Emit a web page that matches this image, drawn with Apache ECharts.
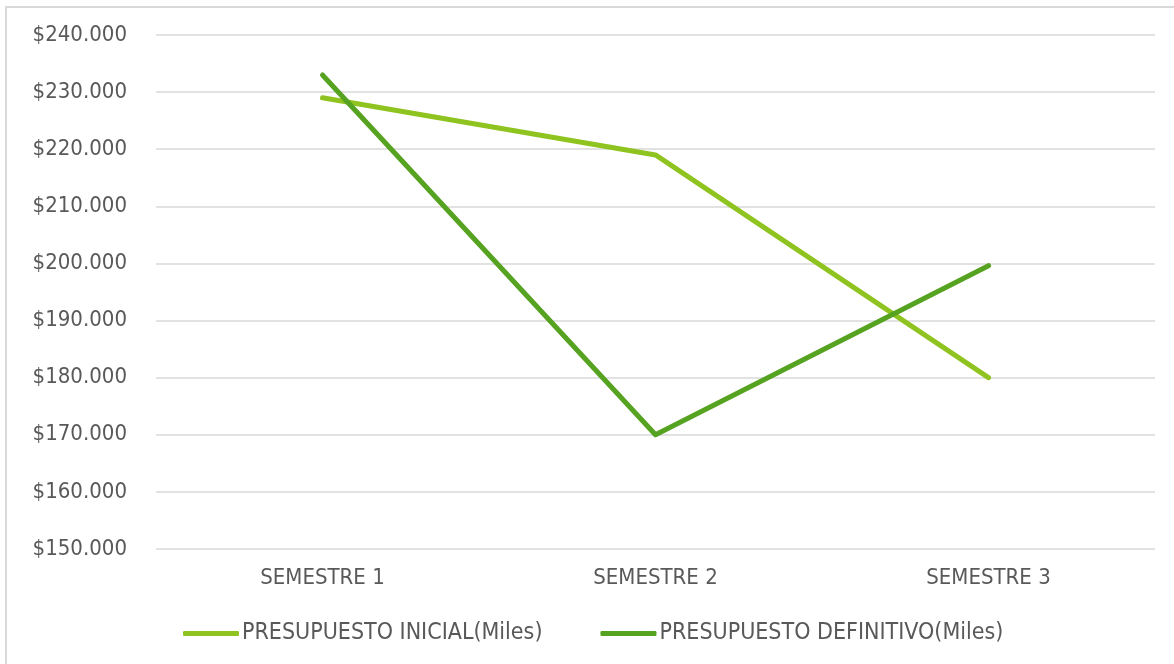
<!DOCTYPE html>
<html>
<head>
<meta charset="utf-8">
<script src="https://cdn.jsdelivr.net/npm/echarts@6/dist/echarts.min.js"></script>
<style>
  html, body { margin: 0; padding: 0; background: #fff; overflow: hidden; }
  #frame { position: absolute; left: 5px; top: 6px; width: 1200px; height: 700px; border-left: 2px solid #d9d9d9; border-top: 2px solid #d9d9d9; }
  #chart { position: absolute; left: 0; top: 0; width: 1174px; height: 664px; }
</style>
</head>
<body>
<div id="frame"></div>
<div id="chart"></div>
<script>
const categories = ['SEMESTRE 1', 'SEMESTRE 2', 'SEMESTRE 3']
const inicial = [229000, 219000, 180000]
const definitivo = [233000, 170000, 199600]
const seriesNames = ['PRESUPUESTO INICIAL(Miles)', 'PRESUPUESTO DEFINITIVO(Miles)']

const textFont = 'DejaVu Sans Condensed'
const textColor = '#595959'

function money(v) {
  // $240.000 style, dot as thousands separator
  return '$' + String(v).replace(/\B(?=(\d{3})+(?!\d))/g, '.')
}

const chart = echarts.init(document.getElementById('chart'))
chart.setOption({
  animation: false,
  grid: { left: 156, right: 19, top: 35, bottom: 115 },
  legend: {
    top: 617,
    left: 178,
    itemWidth: 56,
    itemHeight: 5,
    itemGap: 58,
    icon: 'roundRect',
    textStyle: { fontFamily: textFont, fontSize: 23, color: textColor, padding: [0, 0, 0, -2] },
    data: seriesNames,
  },
  xAxis: {
    type: 'category',
    data: categories,
    boundaryGap: true,
    axisLine: { show: false },
    axisTick: { show: false },
    axisLabel: { fontFamily: textFont, fontSize: 22, color: textColor, margin: 18 },
  },
  yAxis: {
    type: 'value',
    min: 150000,
    max: 240000,
    interval: 10000,
    axisLine: { show: false },
    axisTick: { show: false },
    axisLabel: { fontFamily: textFont, fontSize: 22, color: textColor, margin: 29, formatter: money },
    splitLine: { lineStyle: { color: '#d9d9d9', width: 1.5 } },
  },
  series: [
    {
      name: seriesNames[0],
      type: 'line',
      data: inicial,
      symbol: 'none',
      lineStyle: { color: '#8fc31f', width: 5, cap: 'round', join: 'round' },
      itemStyle: { color: '#8fc31f' },
    },
    {
      name: seriesNames[1],
      type: 'line',
      data: definitivo,
      symbol: 'none',
      lineStyle: { color: '#56a221', width: 5, cap: 'round', join: 'round' },
      itemStyle: { color: '#56a221' },
    },
  ],
})
</script>
</body>
</html>
